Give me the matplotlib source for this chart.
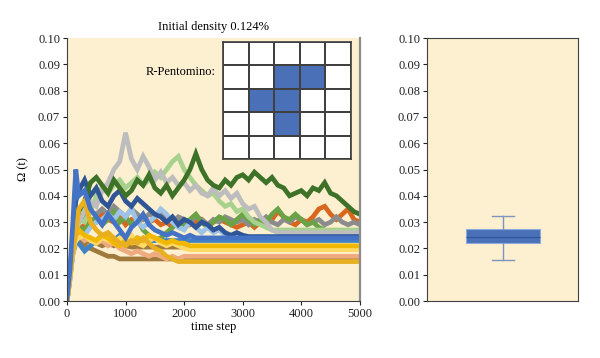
"""
Omega(t) trajectories for the R-pentomino runs, plus box plot of final values.
"""

import matplotlib
matplotlib.use("Agg")
import matplotlib.pyplot as plt

plt.rcParams["font.family"] = ["Liberation Serif", "DejaVu Serif"]

# sample times (finer at the start where the curves rise)
steps = [0, 50, 100, 150] + list(range(200, 5001, 100))

dark_green = [
    0.000, 0.010, 0.022, 0.030, 0.034, 0.038, 0.045, 0.047, 0.044, 0.041,
    0.046, 0.043, 0.040, 0.042, 0.046, 0.044, 0.048, 0.043, 0.041, 0.044,
    0.040, 0.043, 0.046, 0.050, 0.056, 0.050, 0.046, 0.044, 0.043, 0.046,
    0.044, 0.047, 0.048, 0.046, 0.049, 0.047, 0.045, 0.047, 0.044, 0.043,
    0.040, 0.041, 0.042, 0.040, 0.043, 0.042, 0.045, 0.041, 0.040, 0.038,
    0.036, 0.034, 0.033,
]
light_gray = [
    0.000, 0.008, 0.018, 0.026, 0.030, 0.034, 0.038, 0.036, 0.042, 0.045,
    0.050, 0.053, 0.064, 0.054, 0.050, 0.055, 0.051, 0.046, 0.049, 0.045,
    0.047, 0.044, 0.045, 0.042, 0.044, 0.041, 0.040, 0.043, 0.040, 0.042,
    0.039, 0.041, 0.037, 0.035, 0.036, 0.032, 0.030, 0.027, 0.026, 0.026,
    0.026, 0.026, 0.026, 0.026, 0.026, 0.026, 0.026, 0.026, 0.026, 0.026,
    0.026, 0.026, 0.026,
]
light_green = [
    0.000, 0.009, 0.020, 0.028, 0.031, 0.030, 0.034, 0.040, 0.043, 0.041,
    0.044, 0.046, 0.043, 0.045, 0.047, 0.044, 0.046, 0.049, 0.047, 0.050,
    0.053, 0.055, 0.050, 0.047, 0.044, 0.042, 0.040, 0.041, 0.038, 0.036,
    0.037, 0.034, 0.035, 0.032, 0.030, 0.029, 0.028, 0.027, 0.027, 0.027,
    0.027, 0.027, 0.027, 0.027, 0.027, 0.027, 0.027, 0.027, 0.027, 0.027,
    0.027, 0.027, 0.027,
]
mid_green = [
    0.000, 0.010, 0.020, 0.026, 0.028, 0.027, 0.030, 0.032, 0.029, 0.031,
    0.034, 0.030, 0.032, 0.029, 0.031, 0.027, 0.025, 0.023, 0.024, 0.026,
    0.028, 0.030, 0.029, 0.031, 0.033, 0.030, 0.028, 0.030, 0.032, 0.031,
    0.029, 0.031, 0.033, 0.031, 0.029, 0.031, 0.030, 0.033, 0.035, 0.032,
    0.031, 0.033, 0.031, 0.029, 0.030, 0.028, 0.027, 0.026, 0.025, 0.025,
    0.025, 0.025, 0.025,
]
orange = [
    0.000, 0.009, 0.019, 0.025, 0.027, 0.029, 0.031, 0.030, 0.033, 0.031,
    0.030, 0.032, 0.029, 0.031, 0.030, 0.032, 0.030, 0.031, 0.029, 0.030,
    0.028, 0.030, 0.031, 0.029, 0.030, 0.031, 0.029, 0.030, 0.031, 0.030,
    0.029, 0.028, 0.029, 0.030, 0.028, 0.030, 0.029, 0.031, 0.034, 0.032,
    0.030, 0.029, 0.031, 0.030, 0.032, 0.035, 0.036, 0.033, 0.031, 0.033,
    0.035, 0.031, 0.030,
]
dark_gray = [
    0.000, 0.010, 0.020, 0.027, 0.030, 0.032, 0.034, 0.033, 0.035, 0.033,
    0.036, 0.034, 0.032, 0.035, 0.033, 0.031, 0.033, 0.032, 0.034, 0.032,
    0.030, 0.032, 0.031, 0.030, 0.032, 0.031, 0.029, 0.031, 0.030, 0.032,
    0.031, 0.030, 0.031, 0.029, 0.031, 0.030, 0.032, 0.030, 0.029, 0.031,
    0.030, 0.032, 0.031, 0.029, 0.030, 0.031, 0.029, 0.030, 0.032, 0.030,
    0.029, 0.030, 0.029,
]
blue = [
    0.001, 0.012, 0.030, 0.050, 0.040, 0.042, 0.035, 0.032, 0.029, 0.033,
    0.030, 0.027, 0.024, 0.028, 0.030, 0.033, 0.029, 0.027, 0.026, 0.025,
    0.026, 0.025, 0.024, 0.025, 0.024, 0.024, 0.024, 0.024, 0.024, 0.024,
    0.024, 0.024, 0.024, 0.024, 0.024, 0.024, 0.024, 0.024, 0.024, 0.024,
    0.024, 0.024, 0.024, 0.024, 0.024, 0.024, 0.024, 0.024, 0.024, 0.024,
    0.024, 0.024, 0.024,
]
dark_blue = [
    0.000, 0.010, 0.025, 0.038, 0.042, 0.046, 0.040, 0.043, 0.038, 0.036,
    0.040, 0.042, 0.038, 0.036, 0.039, 0.037, 0.035, 0.033, 0.032, 0.030,
    0.032, 0.029, 0.031, 0.030, 0.028, 0.030, 0.029, 0.027, 0.028, 0.026,
    0.025, 0.026, 0.025, 0.0245, 0.0245, 0.0245, 0.0245, 0.0245, 0.0245, 0.0245,
    0.0245, 0.0245, 0.0245, 0.0245, 0.0245, 0.0245, 0.0245, 0.0245, 0.0245, 0.0245,
    0.0245, 0.0245, 0.0245,
]
light_blue = [
    0.000, 0.008, 0.018, 0.024, 0.026, 0.025, 0.028, 0.030, 0.031, 0.033,
    0.031, 0.034, 0.032, 0.035, 0.030, 0.028, 0.030, 0.032, 0.035, 0.033,
    0.030, 0.028, 0.027, 0.030, 0.028, 0.026, 0.028, 0.026, 0.027, 0.025,
    0.024, 0.0235, 0.0235, 0.0235, 0.0235, 0.0235, 0.0235, 0.0235, 0.0235, 0.0235,
    0.0235, 0.0235, 0.0235, 0.0235, 0.0235, 0.0235, 0.0235, 0.0235, 0.0235, 0.0235,
    0.0235, 0.0235, 0.0235,
]
mid_blue = [
    0.000, 0.010, 0.020, 0.024, 0.022, 0.019, 0.021, 0.023, 0.025, 0.024,
    0.023, 0.025, 0.024, 0.023, 0.024, 0.023, 0.023, 0.023, 0.023, 0.023,
    0.023, 0.023, 0.023, 0.023, 0.023, 0.023, 0.023, 0.023, 0.023, 0.023,
    0.023, 0.023, 0.023, 0.023, 0.023, 0.023, 0.023, 0.023, 0.023, 0.023,
    0.023, 0.023, 0.023, 0.023, 0.023, 0.023, 0.023, 0.023, 0.023, 0.023,
    0.023, 0.023, 0.023,
]
peach = [
    0.000, 0.009, 0.019, 0.024, 0.025, 0.023, 0.024, 0.022, 0.023, 0.021,
    0.022, 0.020, 0.019, 0.018, 0.019, 0.018, 0.017, 0.018, 0.017, 0.016,
    0.017, 0.016, 0.017, 0.017, 0.017, 0.017, 0.017, 0.017, 0.017, 0.017,
    0.017, 0.017, 0.017, 0.017, 0.017, 0.017, 0.017, 0.017, 0.017, 0.017,
    0.017, 0.017, 0.017, 0.017, 0.017, 0.017, 0.017, 0.017, 0.017, 0.017,
    0.017, 0.017, 0.017,
]
gold_low = [
    0.000, 0.010, 0.020, 0.026, 0.035, 0.038, 0.030, 0.027, 0.025, 0.026,
    0.024, 0.022, 0.021, 0.023, 0.022, 0.024, 0.022, 0.020, 0.019, 0.017,
    0.016, 0.015, 0.015, 0.015, 0.015, 0.015, 0.015, 0.015, 0.015, 0.015,
    0.015, 0.015, 0.015, 0.015, 0.015, 0.015, 0.015, 0.015, 0.015, 0.015,
    0.015, 0.015, 0.015, 0.015, 0.015, 0.015, 0.015, 0.015, 0.015, 0.015,
    0.015, 0.015, 0.015,
]
gold_high = [
    0.000, 0.010, 0.020, 0.025, 0.027, 0.025, 0.024, 0.023, 0.025, 0.024,
    0.022, 0.021, 0.023, 0.022, 0.024, 0.023, 0.025, 0.024, 0.023, 0.022,
    0.023, 0.022, 0.022, 0.021, 0.021, 0.021, 0.021, 0.021, 0.021, 0.021,
    0.021, 0.021, 0.021, 0.021, 0.021, 0.021, 0.021, 0.021, 0.021, 0.021,
    0.021, 0.021, 0.021, 0.021, 0.021, 0.021, 0.021, 0.021, 0.021, 0.021,
    0.021, 0.021, 0.021,
]
yellow = [
    0.000, 0.009, 0.020, 0.023, 0.024, 0.025, 0.023, 0.022, 0.024, 0.023,
    0.022, 0.024, 0.023, 0.025, 0.022, 0.021, 0.023, 0.024, 0.022, 0.021,
    0.022, 0.021, 0.020, 0.0195, 0.0195, 0.0195, 0.0195, 0.0195, 0.0195, 0.0195,
    0.0195, 0.0195, 0.0195, 0.0195, 0.0195, 0.0195, 0.0195, 0.0195, 0.0195, 0.0195,
    0.0195, 0.0195, 0.0195, 0.0195, 0.0195, 0.0195, 0.0195, 0.0195, 0.0195, 0.0195,
    0.0195, 0.0195, 0.0195,
]
brown_a = [
    0.000, 0.009, 0.019, 0.023, 0.024, 0.022, 0.023, 0.022, 0.021, 0.022,
    0.021, 0.022, 0.021, 0.0205, 0.0205, 0.0205, 0.0205, 0.0205, 0.0205, 0.0205,
    0.0205, 0.0205, 0.0205, 0.0205, 0.0205, 0.0205, 0.0205, 0.0205, 0.0205, 0.0205,
    0.0205, 0.0205, 0.0205, 0.0205, 0.0205, 0.0205, 0.0205, 0.0205, 0.0205, 0.0205,
    0.0205, 0.0205, 0.0205, 0.0205, 0.0205, 0.0205, 0.0205, 0.0205, 0.0205, 0.0205,
    0.0205, 0.0205, 0.0205,
]
brown_b = [
    0.000, 0.009, 0.018, 0.022, 0.023, 0.021, 0.020, 0.019, 0.018, 0.017,
    0.017, 0.016, 0.016, 0.016, 0.016, 0.016, 0.016, 0.016, 0.016, 0.016,
    0.016, 0.016, 0.016, 0.016, 0.016, 0.016, 0.016, 0.016, 0.016, 0.016,
    0.016, 0.016, 0.016, 0.016, 0.016, 0.016, 0.016, 0.016, 0.016, 0.016,
    0.016, 0.016, 0.016, 0.016, 0.016, 0.016, 0.016, 0.016, 0.016, 0.016,
    0.016, 0.016, 0.016,
]

# drawn bottom to top
series = [
    (brown_b, "#A07A3C"),
    (brown_a, "#A07A3C"),
    (orange, "#D9661F"),
    (dark_gray, "#8C8C8C"),
    (mid_green, "#6AA345"),
    (light_green, "#A9D18E"),
    (light_gray, "#BDBDBD"),
    (light_blue, "#9DC3E6"),
    (dark_blue, "#2F5597"),
    (dark_green, "#3E7228"),
    (mid_blue, "#3F83C6"),
    (peach, "#EFAA80"),
    (yellow, "#FFD966"),
    (gold_high, "#F2B800"),
    (gold_low, "#E8B020"),
    (blue, "#4472C4"),
]

# R-pentomino pattern (1 = live cell)
pattern = [
    [0, 0, 0, 0, 0],
    [0, 0, 1, 1, 0],
    [0, 1, 1, 0, 0],
    [0, 0, 1, 0, 0],
    [0, 0, 0, 0, 0],
]

# box plot of final Omega values
box_stats = {"whislo": 0.0155, "q1": 0.0222, "med": 0.0245, "q3": 0.0275, "whishi": 0.0325}

yticks = [0.00, 0.01, 0.02, 0.03, 0.04, 0.05, 0.06, 0.07, 0.08, 0.09, 0.10]
xticks = [0, 1000, 2000, 3000, 4000, 5000]

bg = "#FCF0D0"
fs = 9

fig = plt.figure(figsize=(6, 3.58), dpi=100)

ax = fig.add_axes([0.1117, 0.1592, 0.488, 0.7346])
ax.set_facecolor(bg)
for vals, col in series:
    ax.plot(steps, vals, color=col, lw=3.4, solid_joinstyle="miter")
ax.set_xlim(0, 5000)
ax.set_ylim(0, 0.10)
ax.set_yticks(yticks)
ax.set_yticklabels([f"{v:.2f}" for v in yticks], fontsize=fs)
ax.set_xticks(xticks)
ax.set_xticklabels([str(v) for v in xticks], fontsize=fs)
ax.set_xlabel("time step", fontsize=fs, labelpad=1)
ax.set_ylabel("Ω (t)", fontsize=fs, labelpad=6)
ax.set_title("Initial density 0.124%", fontsize=fs, pad=6)
ax.tick_params(length=3, width=0.8, pad=2, colors="#222222")
ax.spines["top"].set_visible(False)
ax.spines["right"].set_color("#8C8C8C")
ax.spines["right"].set_linewidth(1.6)
ax.spines["left"].set_color("#404040")
ax.spines["bottom"].set_color("#404040")

ax.text(0.508, 0.87, "R-Pentomino:", transform=ax.transAxes, fontsize=fs,
        ha="right", va="center")

# inset grid with the pattern
axg = fig.add_axes([0.372, 0.556, 0.213, 0.327])
axg.pcolormesh(pattern, cmap=matplotlib.colors.ListedColormap(["white", "#4A70B8"]),
               edgecolors="#404040", linewidth=1.2)
axg.set_xlim(0, 5)
axg.set_ylim(5, 0)
axg.set_xticks([])
axg.set_yticks([])
for s in axg.spines.values():
    s.set_color("#404040")
    s.set_linewidth(1.2)

# right: box plot
axb = fig.add_axes([0.7117, 0.1592, 0.2517, 0.7346])
axb.set_facecolor(bg)
axb.bxp([box_stats], positions=[1], widths=0.49, showfliers=False,
        patch_artist=True, capwidths=[0.146],
        boxprops=dict(facecolor="#4A70B8", edgecolor="#8FAADC", linewidth=0.8),
        medianprops=dict(color="#2F5597", linewidth=0.8),
        whiskerprops=dict(color="#7F93BC", linewidth=1.0),
        capprops=dict(color="#7F93BC", linewidth=1.0))
axb.set_xlim(0.5, 1.5)
axb.set_ylim(0, 0.10)
axb.set_xticks([])
axb.set_yticks(yticks)
axb.set_yticklabels([f"{v:.2f}" for v in yticks], fontsize=fs)
axb.tick_params(length=3, width=0.8, pad=2, colors="#222222")
for s in axb.spines.values():
    s.set_color("#404040")

fig.savefig("out.png", dpi=100)
